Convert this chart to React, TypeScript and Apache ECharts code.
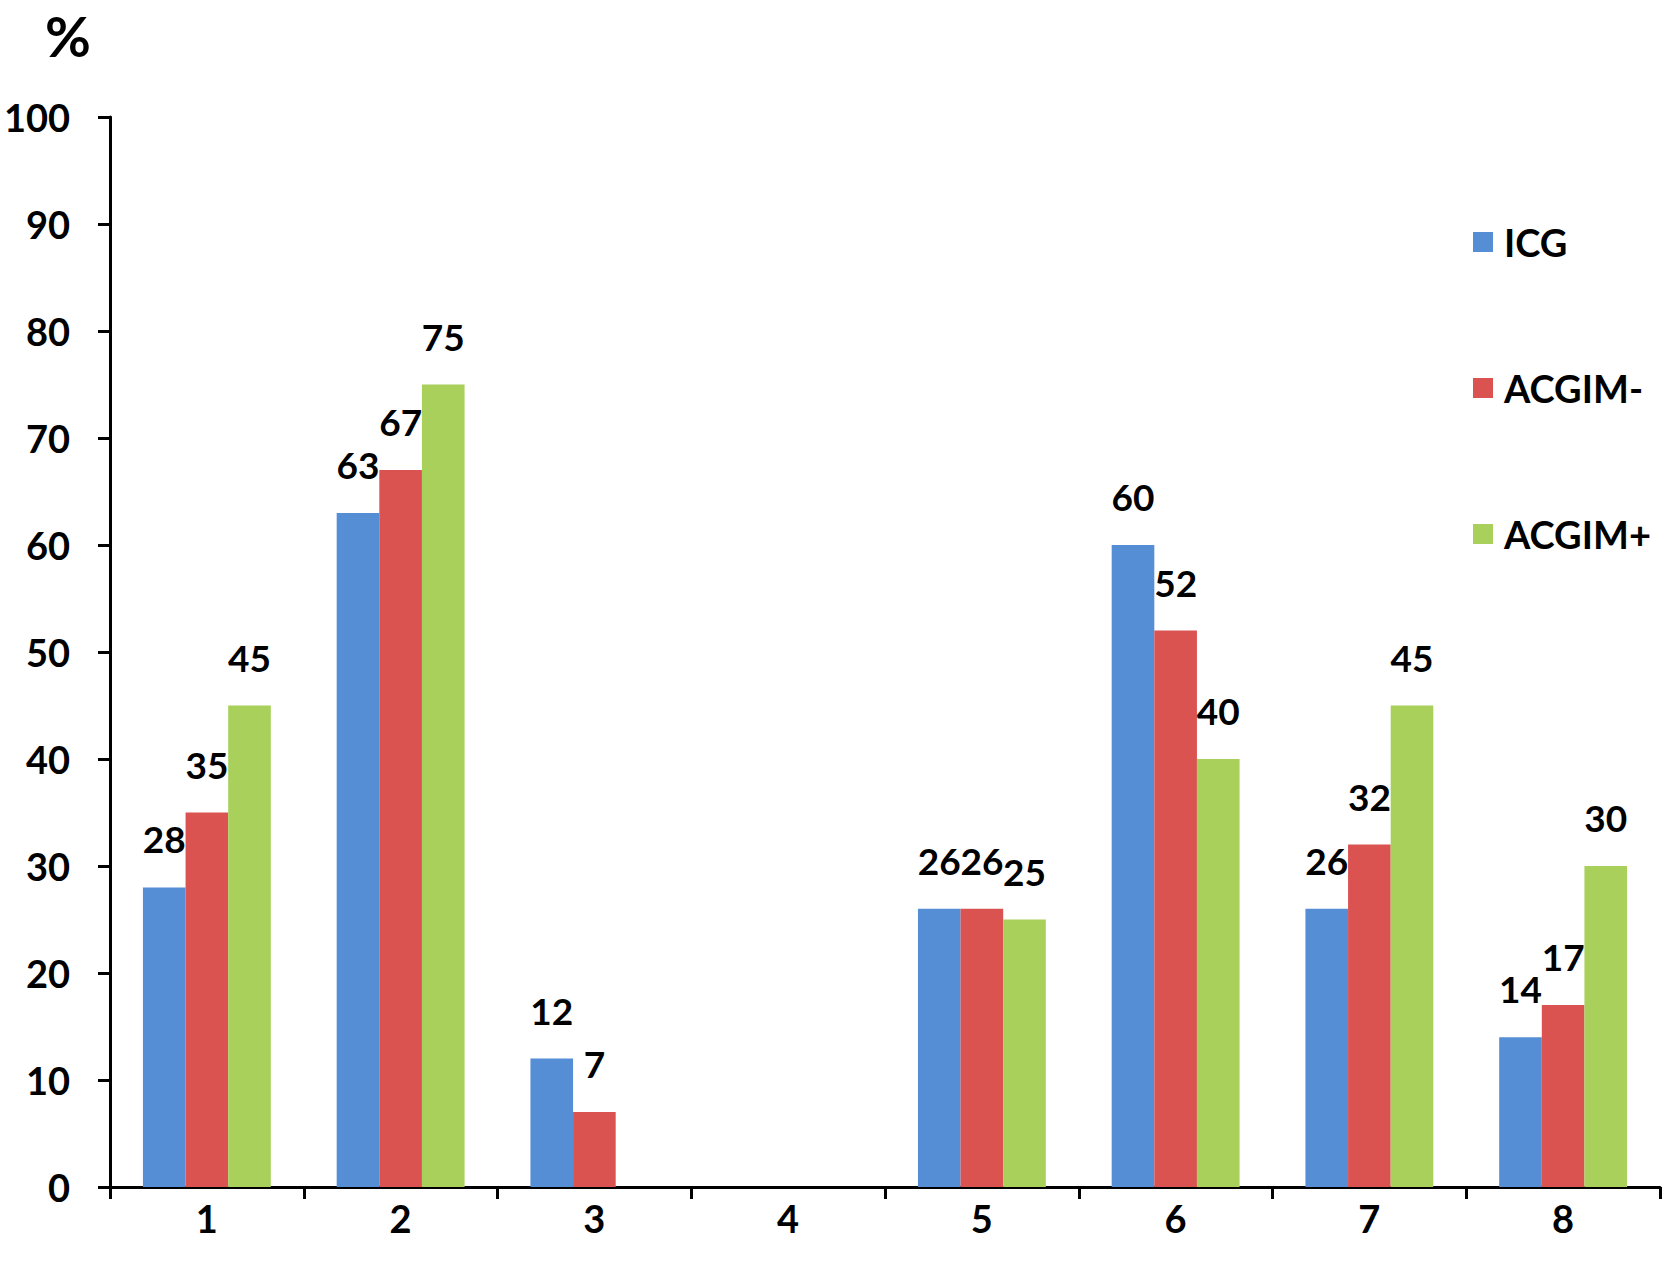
import React, { useEffect, useRef } from "react";
import * as echarts from "echarts";

const categories = ["1", "2", "3", "4", "5", "6", "7", "8"];
const icgValues = [28, 63, 12, null, 26, 60, 26, 14];
const acgimMinusValues = [35, 67, 7, null, 26, 52, 32, 17];
const acgimPlusValues = [45, 75, null, null, 25, 40, 45, 30];
const seriesNames = ["ICG", "ACGIM-", "ACGIM+"];
const seriesColors = ["#558ED5", "#DA5350", "#A8D05A"];

const FONT = "Lato, 'Open Sans', sans-serif";

export default function App() {
  const ref = useRef<HTMLDivElement>(null);
  useEffect(() => {
    const chart = echarts.init(ref.current as HTMLDivElement, null, { renderer: "svg" });
    const dataSets = [icgValues, acgimMinusValues, acgimPlusValues];
    chart.setOption({
      animation: false,
      backgroundColor: "#ffffff",
      textStyle: { fontFamily: FONT },
      title: {
        text: "%",
        left: 40,
        top: 2,
        textStyle: { fontFamily: FONT, fontSize: 56, fontWeight: "bold", color: "#000" },
      },
      legend: {
        orient: "vertical",
        left: 1468,
        top: 216,
        itemWidth: 20,
        itemHeight: 20,
        itemGap: 104,
        icon: "rect",
        data: seriesNames,
        textStyle: {
          fontFamily: FONT,
          fontSize: 38,
          fontWeight: "bold",
          color: "#000",
          lineHeight: 42,
          padding: [0, 0, 0, 6],
        },
      },
      grid: { left: 110, right: 13, top: 117, bottom: 83, containLabel: false },
      xAxis: {
        type: "category",
        data: categories,
        axisLine: { lineStyle: { color: "#000", width: 3 } },
        axisTick: { show: true, length: 12, lineStyle: { color: "#000", width: 3 } },
        axisLabel: {
          margin: 12,
          fontFamily: FONT,
          fontSize: 38,
          fontWeight: "bold",
          color: "#000",
        },
      },
      yAxis: {
        type: "value",
        min: 0,
        max: 100,
        interval: 10,
        splitLine: { show: false },
        axisLine: { show: true, lineStyle: { color: "#000", width: 3 } },
        axisTick: { show: true, length: 12, lineStyle: { color: "#000", width: 3 } },
        axisLabel: {
          margin: 40,
          fontFamily: FONT,
          fontSize: 38,
          fontWeight: "bold",
          color: "#000",
        },
      },
      series: dataSets.map((d, i) => ({
        name: seriesNames[i],
        type: "bar",
        data: d,
        barGap: "0%",
        barCategoryGap: "34%",
        itemStyle: { color: seriesColors[i] },
        label: {
          show: true,
          position: "top",
          distance: 30,
          fontFamily: FONT,
          fontSize: 37,
          fontWeight: "bold",
          color: "#000",
        },
      })),
    });
    return () => chart.dispose();
  }, []);
  return (
    <div
      ref={ref}
      style={{ position: "absolute", left: 0, top: 0, width: 1673, height: 1270 }}
    />
  );
}
